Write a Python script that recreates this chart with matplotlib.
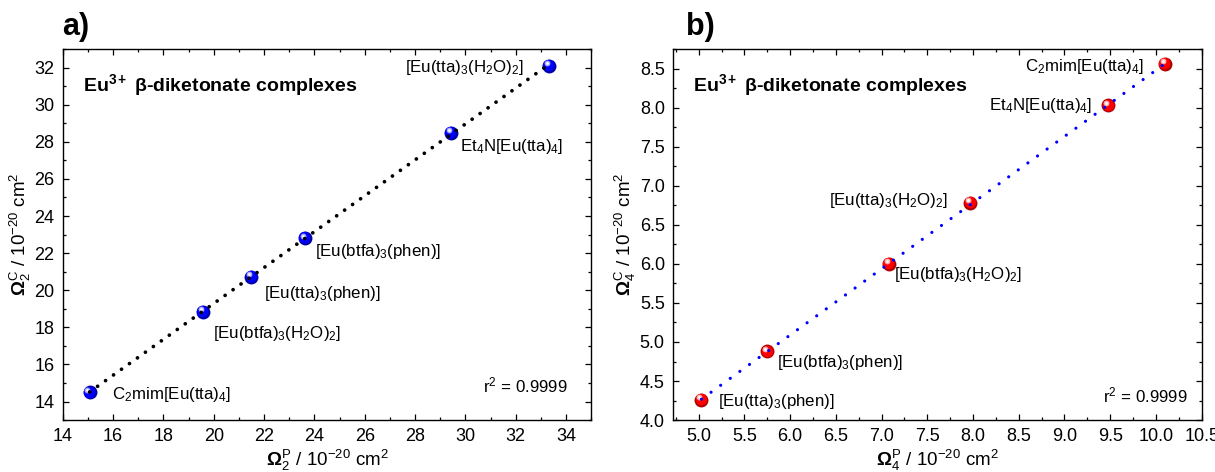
import numpy as np
import matplotlib.pyplot as plt
from matplotlib.ticker import MultipleLocator
from matplotlib.transforms import offset_copy

plt.rcParams['font.family'] = 'Liberation Sans'
plt.rcParams['mathtext.fontset'] = 'custom'
plt.rcParams['mathtext.rm'] = 'Liberation Sans'
plt.rcParams['mathtext.it'] = 'Liberation Sans:italic'
plt.rcParams['mathtext.bf'] = 'Liberation Sans:bold'

# panel a: Omega_2 predicted vs calculated
names_a = ['C$_2$mim[Eu(tta)$_4$]', '[Eu(btfa)$_3$(H$_2$O)$_2$]', '[Eu(tta)$_3$(phen)]',
           '[Eu(btfa)$_3$(phen)]', 'Et$_4$N[Eu(tta)$_4$]', '[Eu(tta)$_3$(H$_2$O)$_2$]']
om2_p = [15.07, 19.58, 21.50, 23.62, 29.42, 33.33]
om2_c = [14.50, 18.85, 20.74, 22.81, 28.50, 32.10]

# panel b: Omega_4
names_b = ['[Eu(tta)$_3$(phen)]', '[Eu(btfa)$_3$(phen)]', '[Eu(btfa)$_3$(H$_2$O)$_2$]',
           '[Eu(tta)$_3$(H$_2$O)$_2$]', 'Et$_4$N[Eu(tta)$_4$]', 'C$_2$mim[Eu(tta)$_4$]']
om4_p = [5.03, 5.75, 7.08, 7.97, 9.48, 10.10]
om4_c = [4.26, 4.88, 6.00, 6.78, 8.03, 8.56]

r2_text = 'r$^2$ = 0.9999'
title = r'Eu$^{\mathbf{3+}}$ β-diketonate complexes'

# label offsets (points) and alignment
offs_a = [(16, -1.5, 'left'), (7, -16, 'left'), (9, -12, 'left'),
          (7, -10, 'left'), (6.5, -10, 'left'), (-18, -1, 'right')]
offs_b = [(12, -1.5, 'left'), (7, -8, 'left'), (3.6, -8, 'left'),
          (-16, 1.5, 'right'), (-12, 0, 'right'), (-15, -1.5, 'right')]


def ball(ax, x, y, dark, mid, light):
    # fake shaded sphere marker
    ax.plot(x, y, 'o', ms=10, color=dark, mew=0, ls='none', zorder=3)
    tr = offset_copy(ax.transData, fig=ax.figure, x=-0.5, y=0.5, units='points')
    ax.plot(x, y, 'o', ms=8.2, color=mid, mew=0, ls='none', zorder=3.1, transform=tr)
    tr = offset_copy(ax.transData, fig=ax.figure, x=-1.6, y=1.8, units='points')
    ax.plot(x, y, 'o', ms=4.2, color=light, mew=0, ls='none', zorder=3.2, transform=tr)
    ax.plot(x, y, 'o', ms=2.0, color='white', mew=0, ls='none', zorder=3.3, transform=tr)


def panel(ax, xs, ys, names, offs, dark, mid, light, lcol, dot, gap):
    k, b = np.polyfit(xs, ys, 1)
    xx = np.array([min(xs), max(xs)])
    ball(ax, xs, ys, dark, mid, light)
    ax.plot(xx, k * xx + b, color=lcol, lw=dot, ls=(0, (0.01, gap)),
            dash_capstyle='round', zorder=4)
    for x, y, n, (dx, dy, ha) in zip(xs, ys, names, offs):
        ax.annotate(n, (x, y), xytext=(dx, dy), textcoords='offset points',
                    ha=ha, va='center', fontsize=12.2)
    ax.text(0.038, 0.903, title, transform=ax.transAxes, fontsize=14,
            fontweight='bold', va='center')
    ax.tick_params(which='both', direction='in', top=True, right=True,
                   labelsize=13, pad=6, width=0.9)
    ax.tick_params(which='major', length=4)
    ax.tick_params(which='minor', length=2.2)
    for s in ax.spines.values():
        s.set_linewidth(1.0)


fig = plt.figure(figsize=(12.15, 4.72), dpi=100)
ax1 = fig.add_axes([0.0516, 0.110, 0.435, 0.786])
ax2 = fig.add_axes([0.554, 0.110, 0.435, 0.786])

panel(ax1, om2_p, om2_c, names_a, offs_a, '#0000a8', '#0000ff', '#a8a8ff', 'black', 2.7, 2.6)
ax1.set_xlim(14, 35)
ax1.set_ylim(13, 33)
ax1.xaxis.set_major_locator(MultipleLocator(2))
ax1.xaxis.set_minor_locator(MultipleLocator(1))
ax1.yaxis.set_major_locator(MultipleLocator(2))
ax1.yaxis.set_minor_locator(MultipleLocator(1))
ax1.text(0.955, 0.094, r2_text, transform=ax1.transAxes, ha='right', va='center', fontsize=12.2)
ax1.set_xlabel(r'$\mathbf{\Omega}_\mathrm{2}^\mathrm{P}$ / 10$^{-20}$ cm$^2$', fontsize=13.5, labelpad=2)
ax1.set_ylabel(r'$\mathbf{\Omega}_\mathrm{2}^\mathrm{C}$ / 10$^{-20}$ cm$^2$', fontsize=13.5, labelpad=1)

panel(ax2, om4_p, om4_c, names_b, offs_b, '#b00000', '#ff0000', '#ffb0b0', '#0000ff', 2.3, 3.7)
ax2.set_xlim(4.72, 10.5)
ax2.set_ylim(4.0, 8.75)
ax2.xaxis.set_major_locator(MultipleLocator(0.5))
ax2.xaxis.set_minor_locator(MultipleLocator(0.25))
ax2.yaxis.set_major_locator(MultipleLocator(0.5))
ax2.yaxis.set_minor_locator(MultipleLocator(0.25))
ax2.xaxis.set_major_formatter('{x:.1f}')
ax2.yaxis.set_major_formatter('{x:.1f}')
ax2.text(0.974, 0.067, r2_text, transform=ax2.transAxes, ha='right', va='center', fontsize=12.2)
ax2.set_xlabel(r'$\mathbf{\Omega}_\mathrm{4}^\mathrm{P}$ / 10$^{-20}$ cm$^2$', fontsize=13.5, labelpad=2)
ax2.set_ylabel(r'$\mathbf{\Omega}_\mathrm{4}^\mathrm{C}$ / 10$^{-20}$ cm$^2$', fontsize=13.5, labelpad=1)

fig.text(0.051, 0.942, 'a)', fontsize=22, fontweight='bold', va='center')
fig.text(0.565, 0.942, 'b)', fontsize=22, fontweight='bold', va='center')

fig.savefig('out.png', dpi=100)
